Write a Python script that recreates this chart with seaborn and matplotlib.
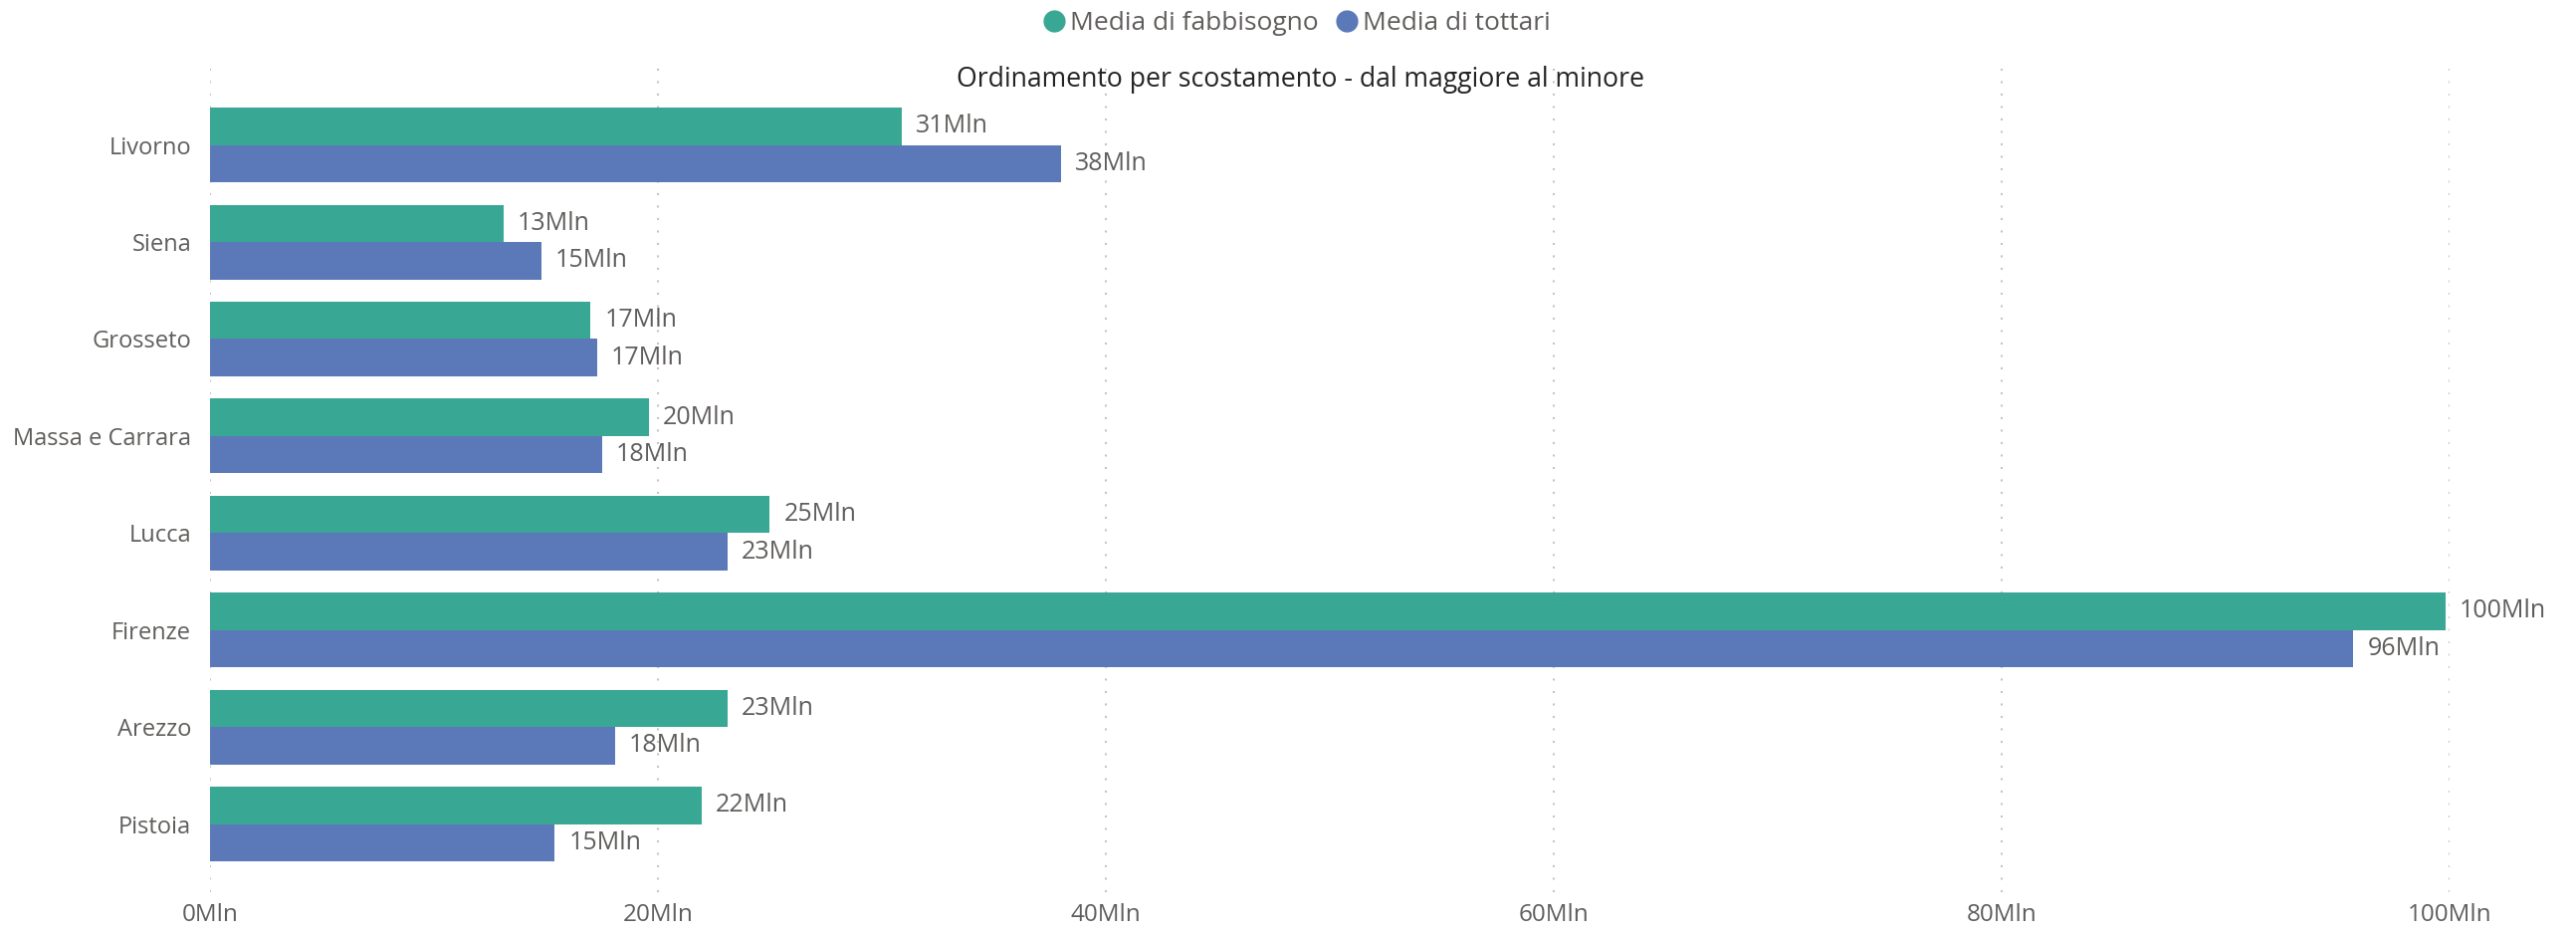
import pandas as pd
import matplotlib.pyplot as plt
from matplotlib.lines import Line2D
import seaborn as sns

# values (milions)
province = ['Livorno', 'Siena', 'Grosseto', 'Massa e Carrara',
            'Lucca', 'Firenze', 'Arezzo', 'Pistoia']
fabbisogno = [30.9, 13.1, 17.0, 19.6, 25.0, 99.8, 23.1, 21.95]
tottari = [38.0, 14.8, 17.3, 17.5, 23.1, 95.7, 18.1, 15.4]
series = ['Media di fabbisogno', 'Media di tottari']
x_ticks = [0, 20, 40, 60, 80, 100]
title = 'Ordinamento per scostamento - dal maggiore al minore'

GREEN = '#38A794'
BLUE = '#5B79B9'
GREY = '#605E5C'

df = pd.DataFrame({
    'provincia': province * 2,
    'valore': fabbisogno + tottari,
    'serie': [series[0]] * len(province) + [series[1]] * len(province),
})

sns.set_theme(style='white')
plt.rcParams['font.family'] = ['Open Sans', 'DejaVu Sans']

fig = plt.figure(figsize=(25.88, 9.39), dpi=100)
ax = fig.add_axes([0.0815, 0.046, 0.8695, 0.884])

sns.barplot(data=df, y='provincia', x='valore', hue='serie',
            hue_order=series, order=province, orient='h',
            palette=[GREEN, BLUE], width=0.77, saturation=1,
            linewidth=0, legend=False, ax=ax)

# data labels
for cont in ax.containers:
    labels = [f'{round(b.get_width())}Mln' for b in cont]
    ax.bar_label(cont, labels=labels, padding=10, fontsize=18, color=GREY)

ax.set_xlim(0, 100)
ax.set_ylim(7.7, -0.82)
ax.set_xticks(x_ticks)
ax.set_xticklabels([f'{t}Mln' for t in x_ticks])
ax.tick_params(axis='x', labelsize=17.5, labelcolor=GREY, length=0, pad=8)
ax.tick_params(axis='y', labelsize=17, labelcolor=GREY, length=0, pad=13.5)
ax.set_xlabel('')
ax.set_ylabel('')
for s in ax.spines.values():
    s.set_visible(False)

# dotted vertical gridlines
ax.grid(False)
for t in x_ticks:
    ax.axvline(t, color='#C8C6C4', lw=1.5, ls=(0, (1, 5)), zorder=0)
ax.set_axisbelow(True)

fig.text(0.505, 0.915, title, ha='center', va='center',
         fontsize=19.2, color='#252423')

handles = [Line2D([], [], marker='o', ls='', markersize=15,
                  markerfacecolor=c, markeredgecolor=c)
           for c in [GREEN, BLUE]]
fig.legend(handles, series, loc='center', bbox_to_anchor=(0.503, 0.975),
           ncol=2, frameon=False, fontsize=19, labelcolor=GREY,
           handletextpad=0.1, columnspacing=0.6, handlelength=1.0)

fig.savefig('out.png', dpi=100)
